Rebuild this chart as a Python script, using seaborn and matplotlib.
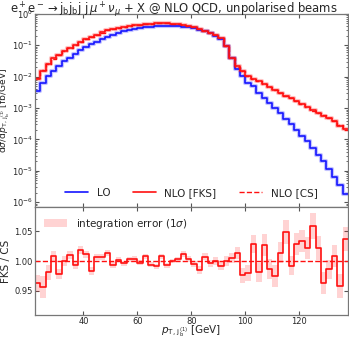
import numpy as np
import pandas as pd
import matplotlib
matplotlib.use("Agg")
import matplotlib.pyplot as plt
import seaborn as sns

# bin edges in GeV (2 GeV bins from 22 to 138)
bin_edges = np.arange(22, 140, 2)

# differential cross sections [fb/GeV]
lo_xs = [3.5e-3, 6.3e-3, 1.02e-2, 1.55e-2, 2.14e-2, 3.1e-2, 4.0e-2, 5.4e-2, 6.9e-2, 8.9e-2,
         0.107, 0.132, 0.162, 0.19, 0.219, 0.251, 0.282, 0.309, 0.331, 0.355,
         0.372, 0.389, 0.398, 0.407, 0.407, 0.407, 0.398, 0.389, 0.372, 0.347,
         0.316, 0.282, 0.245, 0.204, 0.162, 0.093, 0.038, 0.017, 1.02e-2, 6.3e-3,
         4.9e-3, 2.95e-3, 2.04e-3, 1.41e-3, 9.8e-4, 6.8e-4, 4.5e-4, 3.0e-4, 2.0e-4, 1.32e-4,
         9.0e-5, 5.4e-5, 3.3e-5, 2.0e-5, 1.12e-5, 6.3e-6, 3.5e-6, 1.8e-6]
nlo_fks_xs = [8.5e-3, 1.55e-2, 2.45e-2, 3.8e-2, 4.8e-2, 6.6e-2, 8.5e-2, 0.102, 0.132, 0.155,
              0.186, 0.214, 0.257, 0.302, 0.339, 0.363, 0.389, 0.417, 0.437, 0.457,
              0.479, 0.490, 0.501, 0.505, 0.501, 0.490, 0.479, 0.457, 0.427, 0.38,
              0.331, 0.288, 0.251, 0.209, 0.166, 0.0955, 0.0398, 0.0214, 0.0148, 0.0102,
              8.7e-3, 7.1e-3, 5.9e-3, 4.8e-3, 3.8e-3, 3.0e-3, 2.5e-3, 2.04e-3, 1.7e-3, 1.35e-3,
              1.07e-3, 8.7e-4, 6.9e-4, 5.75e-4, 4.7e-4, 3.8e-4, 2.7e-4, 2.1e-4]

# FKS / CS ratio and its 1 sigma integration error
ratio = [0.963, 0.957, 0.981, 1.008, 0.978, 1.000, 1.010, 0.993, 1.018, 1.011,
         0.983, 1.007, 1.006, 1.013, 0.994, 1.002, 0.996, 1.003, 1.004, 0.997,
         1.008, 0.994, 0.991, 1.008, 0.993, 1.000, 1.003, 1.012, 1.004, 0.995,
         0.985, 1.007, 0.996, 1.000, 0.992, 1.000, 1.005, 1.014, 0.976, 0.980,
         1.028, 0.981, 1.027, 0.987, 0.975, 1.014, 1.048, 0.992, 1.028, 1.033,
         1.022, 1.058, 1.021, 0.963, 0.986, 1.008, 0.958, 1.036]
ratio_err = [0.014, 0.018, 0.012, 0.009, 0.008, 0.008, 0.007, 0.007, 0.007, 0.006,
             0.007, 0.005, 0.005, 0.005, 0.005, 0.004, 0.004, 0.004, 0.004, 0.004,
             0.004, 0.004, 0.004, 0.004, 0.004, 0.004, 0.004, 0.005, 0.005, 0.005,
             0.006, 0.006, 0.006, 0.006, 0.007, 0.008, 0.009, 0.010, 0.012, 0.014,
             0.015, 0.016, 0.018, 0.017, 0.018, 0.018, 0.020, 0.016, 0.018, 0.018,
             0.018, 0.022, 0.020, 0.018, 0.016, 0.018, 0.020, 0.020]

BLUE = "#1414ff"
RED = "#ff1010"


def step_vals(vals):
    # repeat the last value so steps-post closes the last bin
    return np.append(np.asarray(vals, dtype=float), vals[-1])


sns.set_style("ticks")
plt.rcParams["font.family"] = ["DejaVu Sans"]
plt.rcParams["mathtext.fontset"] = "dejavusans"

fig = plt.figure(figsize=(3.49, 3.39), dpi=100)
ax = fig.add_axes([0.100, 0.389, 0.897, 0.570])
axr = fig.add_axes([0.100, 0.071, 0.897, 0.318], sharex=ax)

lo = step_vals(lo_xs)
fks = step_vals(nlo_fks_xs)
cs = fks / step_vals(ratio)

# soft halo under each histogram line
for vals, col in [(lo, BLUE), (fks, RED)]:
    ax.step(bin_edges, vals, where="post", color=col, lw=3.0, alpha=0.25)

sns.lineplot(x=bin_edges, y=lo, drawstyle="steps-post", color=BLUE, lw=1.2,
             label="LO", ax=ax)
sns.lineplot(x=bin_edges, y=fks, drawstyle="steps-post", color=RED, lw=1.2,
             label="NLO [FKS]", ax=ax)
sns.lineplot(x=bin_edges, y=cs, drawstyle="steps-post", color=RED, lw=1.0,
             linestyle="--", label="NLO [CS]", ax=ax)

ax.set_yscale("log")
ax.set_ylim(7e-7, 1.0)
ax.set_xlim(22, 138)
ax.set_ylabel(r"d$\sigma$/d$p_{\mathrm{T},\,\mathrm{j}_\mathrm{b}^{(1)}}$ [fb/GeV]",
              fontsize=6.6)
ax.yaxis.set_label_coords(-0.074, 0.5)
fig.text(0.497, 0.999,
         r"e$^+$e$^-$$\rightarrow$j$_\mathrm{b}$j$_\mathrm{b}$j j$\,\mu^+\nu_\mu$ + X @ NLO QCD, unpolarised beams",
         fontsize=8.4, ha="center", va="top")
ax.legend(loc="lower center", ncol=3, frameon=False, fontsize=7.5,
          handlelength=2.2, columnspacing=2.2, bbox_to_anchor=(0.5, 0.0))
plt.setp(ax.get_xticklabels(), visible=False)

# ratio panel
r = step_vals(ratio)
e = step_vals(ratio_err)
axr.fill_between(bin_edges, r - e, r + e, step="post", color=RED, alpha=0.18,
                 lw=0, label=r"integration error (1$\sigma$)")
sns.lineplot(x=bin_edges, y=r, drawstyle="steps-post", color=RED, lw=1.2, ax=axr)
axr.axhline(1.0, color=RED, lw=1.0, ls="--")
axr.set_ylim(0.91, 1.09)
axr.set_yticks([0.95, 1.00, 1.05])
axr.set_ylabel("FKS / CS", fontsize=7.5)
axr.yaxis.set_label_coords(-0.076, 0.5)
axr.set_xlabel(r"$p_{\mathrm{T},\,\mathrm{j}_\mathrm{b}^{(1)}}$ [GeV]", fontsize=7.5)
axr.xaxis.set_label_coords(0.5, -0.075)
axr.set_xticks([40, 60, 80, 100, 120])
axr.legend(loc="upper left", frameon=False, fontsize=7.5, handlelength=2.2)

for a in (ax, axr):
    a.tick_params(direction="in", top=True, right=True, labelsize=6, length=3,
                  pad=1.5, color="#555555")
    a.tick_params(which="minor", direction="in", top=True, right=True, length=1.5,
                  color="#555555")
    for sp in a.spines.values():
        sp.set_color("#777777")
        sp.set_linewidth(0.9)

fig.savefig("out.png", dpi=100)
